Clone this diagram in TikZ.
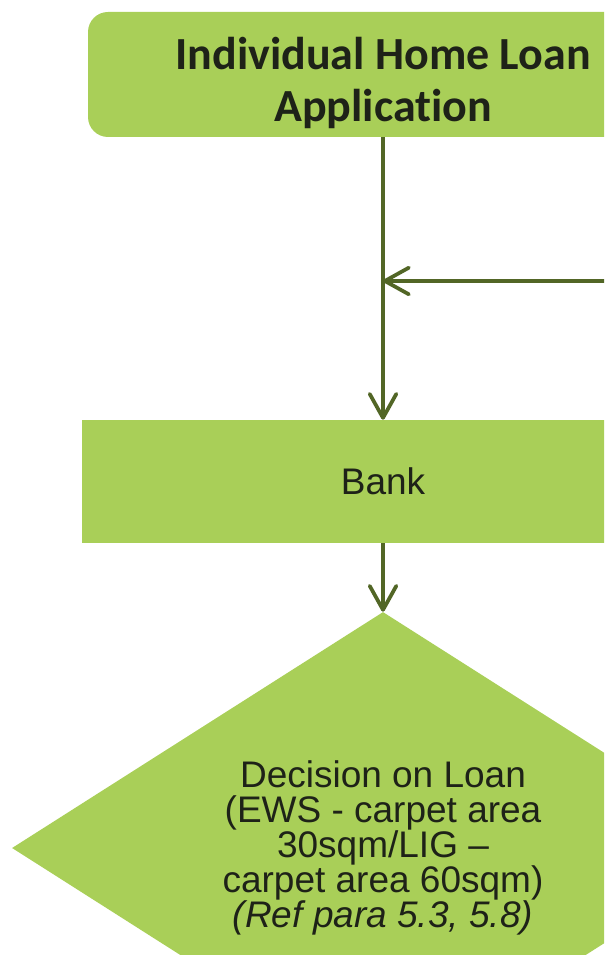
\documentclass[tikz,border=0pt]{standalone}
\usepackage{fontspec}
\setmainfont{Liberation Sans}
\newfontfamily\titlefont[Ligatures=NoCommon]{Carlito}
\usetikzlibrary{shapes.geometric,arrows.meta}
\definecolor{boxgreen}{RGB}{169,207,88}
\definecolor{linegreen}{RGB}{82,102,38}
\definecolor{inkgray}{RGB}{30,34,24}
% tight line spacing for the decision text
\newcommand\decisionfont{\fontsize{27.75}{26.25}\selectfont\setlength{\lineskiplimit}{-20pt}}

\begin{document}
\begin{tikzpicture}[x=0.75pt, y=0.75pt,
  box/.style={fill=boxgreen, draw=none, inner sep=0pt, align=center, text=inkgray},
  flow/.style={draw=linegreen, line width=2.8pt,
    -{Straight Barb[length=18pt, width=20pt, line width=2.8pt, round]}}]
  \useasboundingbox (0,0) rectangle (604,-955);
  \clip (0,0) rectangle (604,-955);
  % Nodes
  \node (app) [box, rounded corners=15pt, minimum width=442.5pt, minimum height=93.75pt,
    text height=70.8pt, text depth=0pt,
    font=\titlefont\bfseries\fontsize{34.5}{39}\selectfont] at (383,-74.5) {Individual Home Loan\\Application};
  \node (bank) [box, minimum width=451.5pt, minimum height=92.25pt,
    font=\fontsize{27.75}{30}\selectfont] at (383,-481.5) {Bank};
  \node (decision) [box, diamond, aspect=1.572, minimum width=556.5pt, minimum height=354pt,
    font=\decisionfont] at (383,-848)
    {Decision on Loan\\(EWS - carpet area\\30sqm/LIG --\\carpet area 60sqm)\\\textit{(Ref para 5.3, 5.8)}};
  \coordinate (resubmit) at (640,-281);
  \coordinate (join) at (383,-281);
  % Arrow
  \draw[flow] (app) -- (bank);
  \draw[flow] (resubmit) -- (join);
  \draw[flow] (bank) -- (decision);
\end{tikzpicture}
\end{document}
